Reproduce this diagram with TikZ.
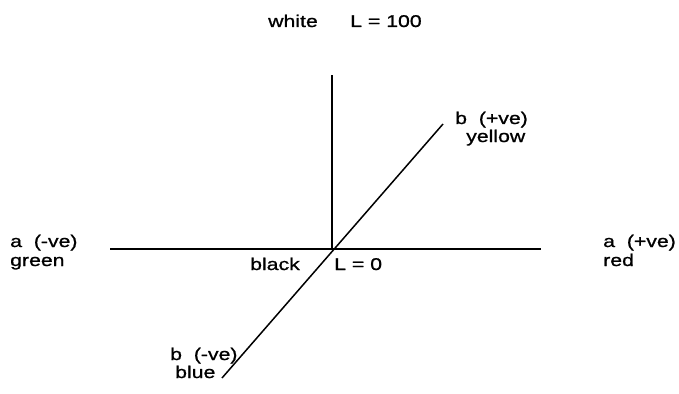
\documentclass[tikz,border=0pt]{standalone}
\usepackage{fontspec}
\setmainfont[FakeStretch=1.25,FakeBold=1]{Liberation Sans}
\begin{document}
\begin{tikzpicture}[x=1pt,y=-1pt,
  lbl/.style={anchor=base west,inner sep=0pt,font=\fontsize{17}{20}\selectfont},
  axis/.style={line width=1.5pt,black}]
\useasboundingbox (0,0) rectangle (679,393);
\coordinate (hl) at (110,249);
\coordinate (hr) at (541,249);
\coordinate (o) at (332,249);
\coordinate (vt) at (332,75);
\coordinate (dt) at (443,124);
\coordinate (db) at (222,378);
\draw[axis] (hl) -- (hr);
\draw[axis] (o) -- (vt);
\draw[axis] (db) -- (dt);
\node[lbl] (white) at (268,27) {white};
\node[lbl] (L100) at (350,27) {L = 100};
\node[lbl] (bp) at (455,124) {b\ \ (+ve)};
\node[lbl] (yellow) at (466,142) {yellow};
\node[lbl] (an) at (10,247) {a\ \ (-ve)};
\node[lbl] (green) at (10,266) {green};
\node[lbl] (black) at (250,270) {black};
\node[lbl] (L0) at (334,270) {L = 0};
\node[lbl] (ap) at (603,247) {a\ \ (+ve)};
\node[lbl] (red) at (603,266) {red};
\node[lbl] (bn) at (170,360) {b\ \ (-ve)};
\node[lbl] (blue) at (175,378) {blue};
\end{tikzpicture}
\end{document}
